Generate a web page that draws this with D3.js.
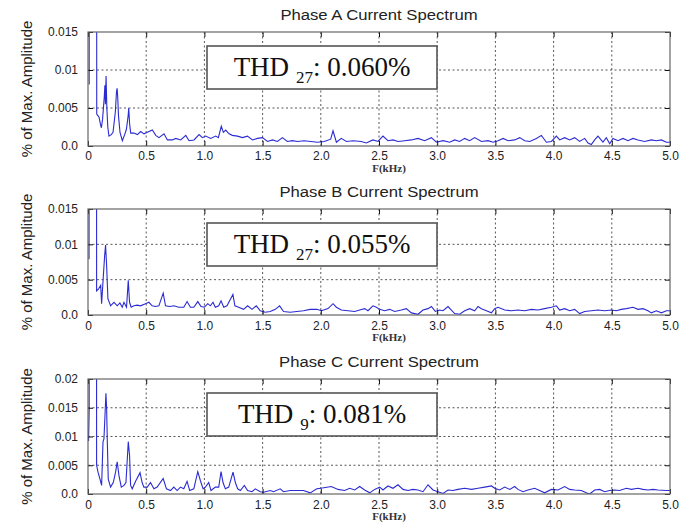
<!DOCTYPE html>
<html>
<head>
    <meta charset="utf-8">
    <title>Phase Current Spectrum</title>
    <script src="https://d3js.org/d3.v7.min.js"></script>
    <style>
        body { margin: 0; background: #fff; }
    </style>
</head>
<body>
    <script>

        // ---- data: [frequency kHz, fraction of max amplitude]
        var titles = ["Phase A Current Spectrum", "Phase B Current Spectrum", "Phase C Current Spectrum"];
        var thdOrders = ["27", "27", "9"];
        var thdValues = ["0.060%", "0.055%", "0.081%"];

        var xTicks = [0, 0.5, 1.0, 1.5, 2.0, 2.5, 3.0, 3.5, 4.0, 4.5, 5.0];
        var xTickLabels = ["0", "0.5", "1.0", "1.5", "2.0", "2.5", "3.0", "3.5", "4.0", "4.5", "5.0"];
        var yTicksAB = [0, 0.005, 0.01, 0.015];
        var yTickLabelsAB = ["0.0", "0.005", "0.01", "0.015"];
        var yTicksC = [0, 0.005, 0.01, 0.015, 0.02];
        var yTickLabelsC = ["0.0", "0.005", "0.01", "0.015", "0.02"];

        var spectrumA = [
            [0.01,0.0081],[0.05,1.0],[0.075,0.0042],[0.085,0.0040],[0.095,0.0038],[0.105,0.0030],[0.115,0.0024],
            [0.125,0.0035],[0.14,0.0065],[0.145,0.0080],[0.15,0.0055],[0.155,0.0092],[0.162,0.0050],[0.17,0.0025],
            [0.18,0.0013],[0.2,0.0015],[0.215,0.0018],[0.235,0.0045],[0.245,0.0072],[0.25,0.0076],[0.255,0.0065],
            [0.262,0.0040],[0.275,0.0018],[0.295,0.0007],[0.315,0.0015],[0.33,0.0022],[0.345,0.0040],[0.35,0.0050],
            [0.357,0.0030],[0.367,0.0017],[0.395,0.0017],[0.424,0.0015],[0.453,0.0019],[0.481,0.0016],[0.51,0.0018],
            [0.553,0.0021],[0.582,0.0014],[0.61,0.0011],[0.653,0.0016],[0.682,0.0008],[0.725,0.0008],[0.754,0.0010],
            [0.797,0.0008],[0.84,0.0014],[0.868,0.0007],[0.911,0.0008],[0.954,0.0015],[0.983,0.0011],[1.011,0.0013],
            [1.054,0.0010],[1.097,0.0013],[1.12,0.0011],[1.145,0.0026],[1.163,0.0018],[1.183,0.0021],[1.212,0.0016],
            [1.24,0.0014],[1.284,0.0013],[1.327,0.0011],[1.37,0.0013],[1.413,0.0008],[1.456,0.0010],[1.499,0.0011],
            [1.542,0.0006],[1.585,0.0008],[1.628,0.0006],[1.67,0.0011],[1.713,0.0006],[1.756,0.0007],[1.8,0.0006],
            [1.857,0.0007],[1.914,0.0006],[1.971,0.0005],[2.03,0.0006],[2.085,0.0009],[2.105,0.0020],[2.134,0.0005],
            [2.176,0.0010],[2.22,0.0006],[2.277,0.0007],[2.348,0.0006],[2.391,0.0004],[2.448,0.0008],[2.491,0.0006],
            [2.534,0.0013],[2.577,0.0007],[2.62,0.0008],[2.663,0.0006],[2.72,0.0007],[2.778,0.0008],[2.835,0.0010],
            [2.892,0.0007],[2.95,0.0011],[2.993,0.0005],[3.05,0.0007],[3.107,0.0005],[3.15,0.0008],[3.193,0.0006],
            [3.236,0.0010],[3.279,0.0007],[3.322,0.0011],[3.38,0.0006],[3.437,0.0007],[3.48,0.0005],[3.523,0.0007],
            [3.566,0.0010],[3.609,0.0007],[3.666,0.0008],[3.709,0.0011],[3.752,0.0007],[3.795,0.0006],[3.852,0.0010],
            [3.895,0.0014],[3.938,0.0005],[3.981,0.0006],[4.024,0.0013],[4.052,0.0008],[4.095,0.0011],[4.138,0.0008],
            [4.181,0.0011],[4.224,0.0006],[4.267,0.0010],[4.296,0.0004],[4.324,0.0002],[4.353,0.0008],[4.381,0.0013],
            [4.424,0.0005],[4.453,0.0011],[4.482,0.0003],[4.51,0.0010],[4.553,0.0007],[4.596,0.0010],[4.639,0.0007],
            [4.682,0.0010],[4.725,0.0008],[4.782,0.0006],[4.84,0.0008],[4.883,0.0007],[4.926,0.0008],[4.969,0.0005],
            [5.0,0.0005]
        ];

        var spectrumB = [
            [0.009,0.0079],[0.05,1.0],[0.074,0.0034],[0.091,0.0037],[0.109,0.0042],[0.117,0.0016],[0.131,0.0053],
            [0.143,0.0084],[0.151,0.0099],[0.16,0.0070],[0.171,0.0023],[0.194,0.0013],[0.223,0.0018],[0.251,0.0013],
            [0.274,0.0017],[0.294,0.0011],[0.309,0.0018],[0.331,0.0011],[0.346,0.0049],[0.357,0.0018],[0.371,0.0011],
            [0.394,0.0013],[0.423,0.0014],[0.451,0.0013],[0.494,0.0016],[0.523,0.0018],[0.551,0.0013],[0.58,0.0012],
            [0.609,0.0013],[0.646,0.0031],[0.666,0.0013],[0.703,0.0012],[0.737,0.0013],[0.78,0.0011],[0.823,0.0011],
            [0.851,0.0019],[0.88,0.0011],[0.909,0.0011],[0.943,0.0019],[0.971,0.0012],[1.0,0.0011],[1.029,0.0016],
            [1.051,0.0013],[1.074,0.0018],[1.094,0.0011],[1.123,0.0013],[1.143,0.0020],[1.166,0.0011],[1.194,0.0013],
            [1.245,0.0029],[1.262,0.0013],[1.294,0.0011],[1.337,0.0008],[1.371,0.0013],[1.409,0.0008],[1.446,0.0013],
            [1.48,0.0006],[1.523,0.0004],[1.566,0.0005],[1.609,0.0008],[1.646,0.0013],[1.68,0.0005],[1.737,0.0004],
            [1.794,0.0005],[1.851,0.0006],[1.909,0.0008],[1.966,0.0008],[2.005,0.0006],[2.062,0.0009],[2.105,0.0016],
            [2.134,0.0011],[2.176,0.0007],[2.234,0.0006],[2.291,0.0005],[2.334,0.0007],[2.377,0.0009],[2.405,0.0006],
            [2.448,0.0013],[2.477,0.0011],[2.506,0.0008],[2.549,0.0006],[2.592,0.0008],[2.635,0.0005],[2.692,0.0007],
            [2.735,0.0009],[2.778,0.0003],[2.835,0.0001],[2.878,0.0007],[2.921,0.0009],[2.95,0.0012],[2.984,0.0005],
            [3.021,0.0007],[3.05,0.0006],[3.093,0.0012],[3.122,0.0007],[3.15,0.0002],[3.193,0.0001],[3.236,0.0006],
            [3.279,0.0009],[3.322,0.0006],[3.351,0.0012],[3.38,0.0009],[3.423,0.0006],[3.466,0.0003],[3.494,0.0009],
            [3.523,0.0011],[3.58,0.0007],[3.637,0.0006],[3.694,0.0007],[3.752,0.0006],[3.809,0.0008],[3.866,0.0007],
            [3.923,0.0009],[3.981,0.0011],[4.024,0.0013],[4.052,0.0007],[4.095,0.0009],[4.138,0.0006],[4.181,0.0008],
            [4.224,0.0002],[4.267,0.0005],[4.324,0.0006],[4.381,0.0007],[4.439,0.0006],[4.496,0.0007],[4.539,0.0006],
            [4.582,0.0008],[4.625,0.0009],[4.682,0.0011],[4.725,0.0008],[4.768,0.0009],[4.811,0.0006],[4.84,0.0003],
            [4.883,0.0006],[4.926,0.0003],[4.969,0.0006],[5.0,0.0006]
        ];

        var spectrumC = [
            [0.005,0.0092],[0.01,0.0145],[0.05,1.0],[0.074,0.0050],[0.086,0.0038],[0.103,0.0026],[0.117,0.0015],
            [0.129,0.0091],[0.137,0.0096],[0.146,0.0137],[0.154,0.0175],[0.16,0.0149],[0.166,0.0091],[0.174,0.0026],
            [0.194,0.0012],[0.217,0.0020],[0.237,0.0038],[0.251,0.0056],[0.266,0.0032],[0.286,0.0012],[0.309,0.0015],
            [0.326,0.0020],[0.346,0.0091],[0.357,0.0067],[0.366,0.0015],[0.38,0.0009],[0.409,0.0022],[0.447,0.0037],
            [0.465,0.0020],[0.48,0.0012],[0.509,0.0012],[0.537,0.0020],[0.566,0.0009],[0.594,0.0012],[0.646,0.0027],
            [0.674,0.0009],[0.709,0.0006],[0.737,0.0012],[0.766,0.0006],[0.794,0.0012],[0.823,0.0009],[0.851,0.0022],
            [0.874,0.0006],[0.909,0.0009],[0.943,0.0039],[0.966,0.0023],[0.989,0.0009],[1.009,0.0012],[1.037,0.0020],
            [1.057,0.0006],[1.094,0.0012],[1.123,0.0012],[1.143,0.0039],[1.16,0.0020],[1.18,0.0009],[1.209,0.0012],
            [1.246,0.0038],[1.266,0.0020],[1.286,0.0009],[1.309,0.0006],[1.343,0.0015],[1.371,0.0006],[1.409,0.0004],
            [1.437,0.0009],[1.48,0.0004],[1.509,0.0003],[1.566,0.0006],[1.594,0.0004],[1.651,0.0009],[1.68,0.0004],
            [1.737,0.0006],[1.794,0.0006],[1.851,0.0006],[1.909,0.0002],[1.966,0.0009],[2.0,0.0010],[2.09,0.0013],
            [2.148,0.0008],[2.205,0.0006],[2.248,0.0010],[2.291,0.0007],[2.334,0.0013],[2.377,0.0007],[2.42,0.0002],
            [2.463,0.0008],[2.506,0.0012],[2.534,0.0007],[2.577,0.0014],[2.62,0.0010],[2.663,0.0016],[2.706,0.0008],
            [2.749,0.0006],[2.792,0.0008],[2.835,0.0007],[2.878,0.0004],[2.921,0.0016],[2.964,0.0007],[3.007,0.0004],
            [3.05,0.0001],[3.093,0.0007],[3.136,0.0006],[3.179,0.0008],[3.236,0.0010],[3.294,0.0008],[3.351,0.0010],
            [3.408,0.0012],[3.466,0.0014],[3.494,0.0010],[3.537,0.0007],[3.58,0.0012],[3.623,0.0008],[3.666,0.0013],
            [3.694,0.0008],[3.737,0.0004],[3.78,0.0007],[3.837,0.0010],[3.88,0.0006],[3.923,0.0002],[3.981,0.0008],
            [4.038,0.0007],[4.095,0.0013],[4.138,0.0008],[4.181,0.0007],[4.238,0.0006],[4.281,0.0002],[4.31,0.0000],
            [4.353,0.0007],[4.396,0.0008],[4.439,0.0004],[4.482,0.0006],[4.524,0.0007],[4.567,0.0006],[4.625,0.0010],
            [4.668,0.0008],[4.725,0.0010],[4.768,0.0008],[4.811,0.0007],[4.854,0.0008],[4.897,0.0007],[4.969,0.0006],
            [5.0,0.0006]
        ];

        // ---- layout
        var plotLeft = 88, plotWidth = 582;
        var panels = [
            {top: 32,  height: 114, data: spectrumA, yMax: 0.015, yTicks: yTicksAB, yLabels: yTickLabelsAB, tickPad: 5},
            {top: 209, height: 106, data: spectrumB, yMax: 0.015, yTicks: yTicksAB, yLabels: yTickLabelsAB, tickPad: 6},
            {top: 379, height: 115, data: spectrumC, yMax: 0.02,  yTicks: yTicksC,  yLabels: yTickLabelsC,  tickPad: 6}
        ];

        var sans = "'Liberation Sans', Arial, sans-serif";
        var serif = "'Liberation Serif', 'Times New Roman', serif";
        var lineColor = "#2b2bd2";

        var svg = d3.select("body")
                    .append("svg")
                    .attr("width", 696)
                    .attr("height", 531);

        var x = d3.scaleLinear()
                  .domain([0, 5])
                  .range([0, plotWidth]);

        panels.forEach(function(p, i) {

            var y = d3.scaleLinear()
                      .domain([0, p.yMax])
                      .range([p.height, 0]);

            var g = svg.append("g")
                       .attr("transform", "translate(" + plotLeft + "," + p.top + ")");

            g.append("clipPath")
             .attr("id", "clip" + i)
             .append("rect")
             .attr("width", plotWidth)
             .attr("height", p.height);

            // dotted grid
            g.selectAll(".vgrid")
             .data(xTicks.slice(1, -1))
             .enter().append("line")
             .attr("x1", function(d) { return x(d); })
             .attr("x2", function(d) { return x(d); })
             .attr("y1", 0)
             .attr("y2", p.height)
             .attr("stroke", "#444")
             .attr("stroke-width", 0.9)
             .attr("stroke-dasharray", "2,2.5");

            g.selectAll(".hgrid")
             .data(p.yTicks.slice(1, -1))
             .enter().append("line")
             .attr("x1", 0)
             .attr("x2", plotWidth)
             .attr("y1", function(d) { return y(d); })
             .attr("y2", function(d) { return y(d); })
             .attr("stroke", "#444")
             .attr("stroke-width", 0.9)
             .attr("stroke-dasharray", "2,2.5");

            // spectrum line
            g.append("path")
             .datum(p.data)
             .attr("clip-path", "url(#clip" + i + ")")
             .attr("fill", "none")
             .attr("stroke", lineColor)
             .attr("stroke-width", 1.1)
             .attr("d", d3.line()
                .x(function(d) { return x(d[0]); })
                .y(function(d) { return y(d[1]); })
             );

            // axes: ticks point inward like matlab
            var bottom = g.append("g")
             .attr("transform", "translate(0," + p.height + ")")
             .call(d3.axisBottom(x)
                .tickValues(xTicks)
                .tickFormat(function(d, k) { return xTickLabels[k]; })
                .tickSizeInner(-5)
                .tickSizeOuter(0)
                .tickPadding(p.tickPad));

            var left = g.append("g")
             .call(d3.axisLeft(y)
                .tickValues(p.yTicks)
                .tickFormat(function(d, k) { return p.yLabels[k]; })
                .tickSizeInner(-5)
                .tickSizeOuter(0)
                .tickPadding(10));

            g.append("g")
             .call(d3.axisTop(x).tickValues(xTicks).tickFormat("").tickSizeInner(-5).tickSizeOuter(0));

            g.append("g")
             .attr("transform", "translate(" + plotWidth + ",0)")
             .call(d3.axisRight(y).tickValues(p.yTicks).tickFormat("").tickSizeInner(-5).tickSizeOuter(0));

            g.selectAll(".domain").remove();
            g.selectAll(".tick line").attr("stroke", "#111");
            g.selectAll(".tick text")
             .attr("fill", "#222")
             .style("font-family", sans)
             .style("font-size", "12px");

            // frame
            g.append("rect")
             .attr("width", plotWidth)
             .attr("height", p.height)
             .attr("fill", "none")
             .attr("stroke", "#666")
             .attr("stroke-width", 1.2);

            // title
            svg.append("text")
               .attr("transform", "translate(" + (plotLeft + plotWidth / 2) + "," + (p.top - 12) + ") scale(1.15,1)")
               .attr("text-anchor", "middle")
               .style("font-family", sans)
               .style("font-size", "14.5px")
               .attr("fill", "#222")
               .text(titles[i]);

            // x axis title
            svg.append("text")
               .attr("x", 389)
               .attr("y", p.top + p.height + 26)
               .attr("text-anchor", "middle")
               .style("font-family", serif)
               .style("font-weight", "bold")
               .style("font-size", "11px")
               .attr("fill", "#333")
               .text("F(kHz)");

            // y axis title
            svg.append("text")
               .attr("transform", "translate(27," + (p.top + p.height / 2) + ") rotate(-90)")
               .attr("text-anchor", "middle")
               .attr("dy", "0.35em")
               .style("font-family", sans)
               .style("font-size", "15px")
               .attr("fill", "#222")
               .text("% of Max. Amplitude");

            // THD annotation box
            var bx = 119, by = 14, bw = 230, bh = 43;
            g.append("rect")
             .attr("x", bx)
             .attr("y", by)
             .attr("width", bw)
             .attr("height", bh)
             .attr("fill", "#fff")
             .attr("stroke", "#555")
             .attr("stroke-width", 1.6);

            var t = g.append("text")
             .attr("x", bx + bw / 2)
             .attr("y", by + 30)
             .attr("text-anchor", "middle")
             .style("font-family", serif)
             .style("font-size", "27px")
             .attr("fill", "#111");
            t.append("tspan").text("THD ");
            t.append("tspan").attr("dy", 7).style("font-size", "17px").text(thdOrders[i]);
            t.append("tspan").attr("dy", -7).text(": " + thdValues[i]);
        });

    </script>
</body>
</html>
